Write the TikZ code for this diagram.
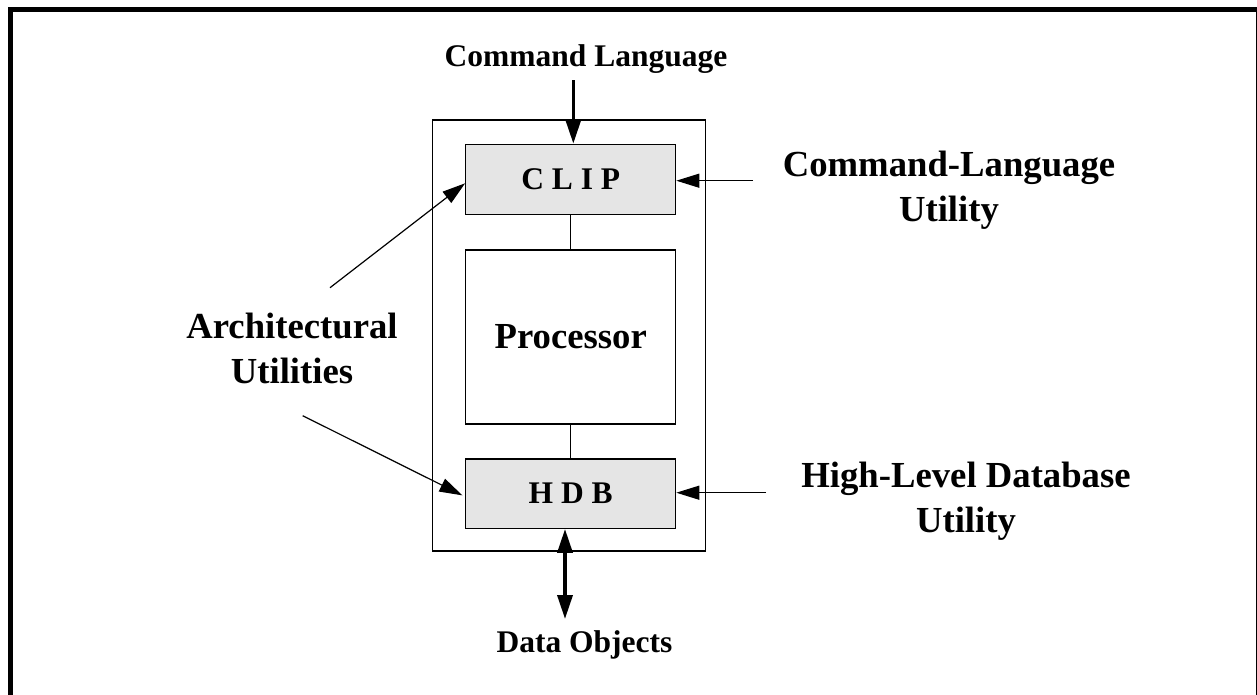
\documentclass[tikz,border=0pt]{standalone}
\usepackage{fontspec}
\setmainfont{Liberation Serif}
\usetikzlibrary{arrows.meta}

\begin{document}
\begin{tikzpicture}[x=1pt, y=-1pt,
    shell/.style={rectangle, draw, line width=1.2pt, minimum width=273.4pt,
        minimum height=431pt, inner sep=0pt},
    module/.style={rectangle, draw, line width=1.2pt, fill=black!10, minimum width=210pt,
        minimum height=70pt, inner sep=0pt, font=\fontsize{31.5}{38}\selectfont\bfseries},
    core/.style={rectangle, draw, line width=1.2pt, minimum width=210pt,
        minimum height=174pt, inner sep=0pt, font=\fontsize{36.7}{45}\selectfont\bfseries},
    biglabel/.style={align=center, inner sep=0pt, anchor=base,
        font=\fontsize{36.7}{45}\selectfont\bfseries},
    smalllabel/.style={inner sep=0pt, anchor=base, font=\fontsize{31.5}{38}\selectfont\bfseries},
    feed/.style={line width=1.2pt, -{Triangle[length=23pt, width=14pt]}},
    flow/.style={line width=3.5pt, -{Triangle[length=24pt, width=15pt]}},
    flowboth/.style={line width=3.5pt, {Triangle[length=24pt, width=15pt]}-{Triangle[length=24pt, width=15pt]}}
]
\useasboundingbox (0,0) rectangle (1257,694);
\clip (0,0) rectangle (1257,694);

% outer frame
\draw[line width=5pt] (10.5,720) -- (10.5,9.5) -- (1258.5,9.5) -- (1258.5,720);

% the system
\node (Shell) [shell] at (569,335.5) {};
\node (Clip) [module] at (570.7,179.3) {C L I P};
\node (Proc) [core] at (570.7,337) {Processor};
\node (Hdb) [module, minimum height=69.3pt] at (570.7,493.7) {H D B};

\draw[line width=1.2pt] (Clip.south) -- (Proc.north);
\draw[line width=1.2pt] (Proc.south) -- (Hdb.north);

% labels
\node (CmdLang) [smalllabel] at (586,66) {Command Language};
\node (DataObj) [smalllabel] at (584.5,652.7) {Data Objects};
\node (CluText) [biglabel] at (949,221.7) {Command-Language\\Utility};
\node (HdbText) [biglabel] at (966,532) {High-Level Database\\Utility};
\node (ArchText) [biglabel] at (292,383) {Architectural\\Utilities};

% connectors
\coordinate (CmdIn) at (573.3,80);
\coordinate (DataOut) at (565,619);
\coordinate (CluIn) at (753,180.7);
\coordinate (HdbIn) at (766,492.7);
\coordinate (ArchUp) at (330,287.7);
\coordinate (ArchDown) at (302.7,415.7);

\draw[flow] (CmdIn) -- (CmdIn |- Clip.north);
\draw[flowboth] (DataOut |- Hdb.south) -- (DataOut);
\draw[feed] (CluIn) -- (CluIn -| Clip.east);
\draw[feed] (HdbIn) -- (HdbIn -| Hdb.east);
\draw[feed] (ArchUp) -- ([yshift=-4pt]Clip.west);
\draw[feed, shorten >=3pt] (ArchDown) -- ([yshift=-3pt]Hdb.west);

\end{tikzpicture}
\end{document}
